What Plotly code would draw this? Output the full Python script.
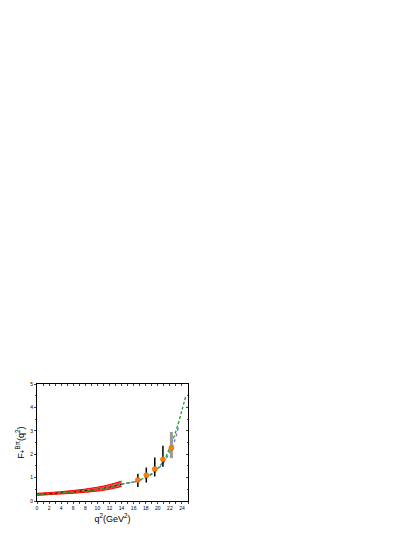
import plotly.graph_objects as go

# Band (0..14 GeV^2)
band_q = [0, 2, 4, 6, 8, 10, 12, 14]
band_upper = [0.33, 0.36, 0.40, 0.45, 0.51, 0.59, 0.70, 0.85]
band_lower = [0.24, 0.27, 0.30, 0.33, 0.37, 0.42, 0.50, 0.62]
band_center = [0.28, 0.31, 0.35, 0.39, 0.44, 0.50, 0.59, 0.72]

# Green dashed curve
green_q = [0, 2, 4, 6, 8, 10, 12, 14, 16, 17, 18, 19, 20, 21, 22, 23, 24, 24.6]
green_f = [0.27, 0.30, 0.34, 0.38, 0.43, 0.49, 0.58, 0.72, 0.82, 0.90, 1.01, 1.17, 1.39, 1.74, 2.28, 2.98, 3.88, 4.45]

# Blue dotted curve
blue_q = [14, 15, 16, 17, 18, 19, 20, 21, 22, 22.8, 23.4]
blue_f = [0.72, 0.76, 0.81, 0.89, 0.99, 1.14, 1.36, 1.66, 2.10, 2.58, 3.15]

# Data points
pt_q = [16.7, 18.1, 19.5, 20.85]
pt_f = [0.90, 1.10, 1.37, 1.78]
pt_ep = [0.26, 0.33, 0.49, 0.58]
pt_em = [0.30, 0.31, 0.32, 0.32]

last_q = [22.25]
last_f = [2.26]
last_ep = [0.69]
last_em = [0.43]

fig = go.Figure()

fig.add_trace(go.Scatter(x=band_q, y=band_lower, mode="lines", line=dict(color="red", width=1, shape="spline"),
                         showlegend=False, hoverinfo="skip"))
fig.add_trace(go.Scatter(x=band_q, y=band_upper, mode="lines", line=dict(color="red", width=1, shape="spline"),
                         fill="tonexty", fillcolor="rgba(255,40,40,0.85)",
                         fillpattern=dict(shape="/", fgcolor="rgba(255,200,200,1)", bgcolor="rgba(240,30,30,0.9)", size=3, solidity=0.3),
                         showlegend=False, hoverinfo="skip"))
fig.add_trace(go.Scatter(x=band_q, y=band_center, mode="lines", line=dict(color="black", width=1, dash="dot", shape="spline"),
                         showlegend=False))
fig.add_trace(go.Scatter(x=blue_q, y=blue_f, mode="lines", line=dict(color="#6666ff", width=1.3, dash="dot", shape="spline"),
                         showlegend=False))
fig.add_trace(go.Scatter(x=green_q, y=green_f, mode="lines", line=dict(color="#22a022", width=1.3, dash="3px,2px", shape="spline"),
                         showlegend=False))

fig.add_trace(go.Scatter(x=pt_q, y=pt_f, mode="markers",
                         marker=dict(color="#ff8000", size=5, line=dict(color="#d06000", width=0.5)),
                         error_y=dict(type="data", array=pt_ep, arrayminus=pt_em, color="black", thickness=1.5, width=0),
                         showlegend=False))
fig.add_trace(go.Scatter(x=last_q, y=last_f, mode="markers",
                         marker=dict(color="#ff8000", size=5, line=dict(color="#d06000", width=0.5)),
                         error_y=dict(type="data", array=last_ep, arrayminus=last_em, color="#999999", thickness=3, width=0),
                         showlegend=False))

# dummy trace for mirrored (top/right) axes
fig.add_trace(go.Scatter(x=[0], y=[0], xaxis="x2", yaxis="y2", mode="markers",
                         marker=dict(opacity=0), showlegend=False, hoverinfo="skip"))

font_fam = "Arial, Liberation Sans, sans-serif"
fig.update_layout(
    width=415, height=537,
    margin=dict(l=24, r=235, t=376, b=44),
    paper_bgcolor="white", plot_bgcolor="white",
    font=dict(family=font_fam, color="black"),
    xaxis=dict(range=[0, 25], dtick=2, tick0=0, ticks="outside", ticklen=2, tickwidth=0.7,
               showline=True, linecolor="black", linewidth=1, showgrid=False, zeroline=False,
               tickfont=dict(size=5, family=font_fam),
               minor=dict(dtick=1, ticks="outside", ticklen=1.5, tickwidth=0.5),
               title=dict(text="q<sup>2</sup>(GeV<sup>2</sup>)", font=dict(size=9, family=font_fam), standoff=5)),
    yaxis=dict(range=[0, 5], dtick=1, tick0=0, ticks="outside", ticklen=2, tickwidth=0.7,
               showline=True, linecolor="black", linewidth=1, showgrid=False, zeroline=False,
               tickfont=dict(size=5, family=font_fam),
               minor=dict(dtick=0.5, ticks="outside", ticklen=1.5, tickwidth=0.5),
               title=dict(text="F<sub>+</sub><sup>Bπ</sup>(q<sup>2</sup>)", font=dict(size=9, family=font_fam), standoff=4)),
    xaxis2=dict(range=[0, 25], overlaying="x", side="top", anchor="y", dtick=2, tick0=0, ticks="inside",
                ticklen=2, tickwidth=0.7, showticklabels=False, showline=True, linecolor="black",
                linewidth=1, showgrid=False, zeroline=False,
                minor=dict(dtick=1, ticks="inside", ticklen=1.5, tickwidth=0.5)),
    yaxis2=dict(range=[0, 5], overlaying="y", side="right", anchor="x", dtick=1, tick0=0, ticks="inside",
                ticklen=2, tickwidth=0.7, showticklabels=False, showline=True, linecolor="black",
                linewidth=1, showgrid=False, zeroline=False,
                minor=dict(dtick=0.5, ticks="inside", ticklen=1.5, tickwidth=0.5)),
)

fig.write_html("out.html")
